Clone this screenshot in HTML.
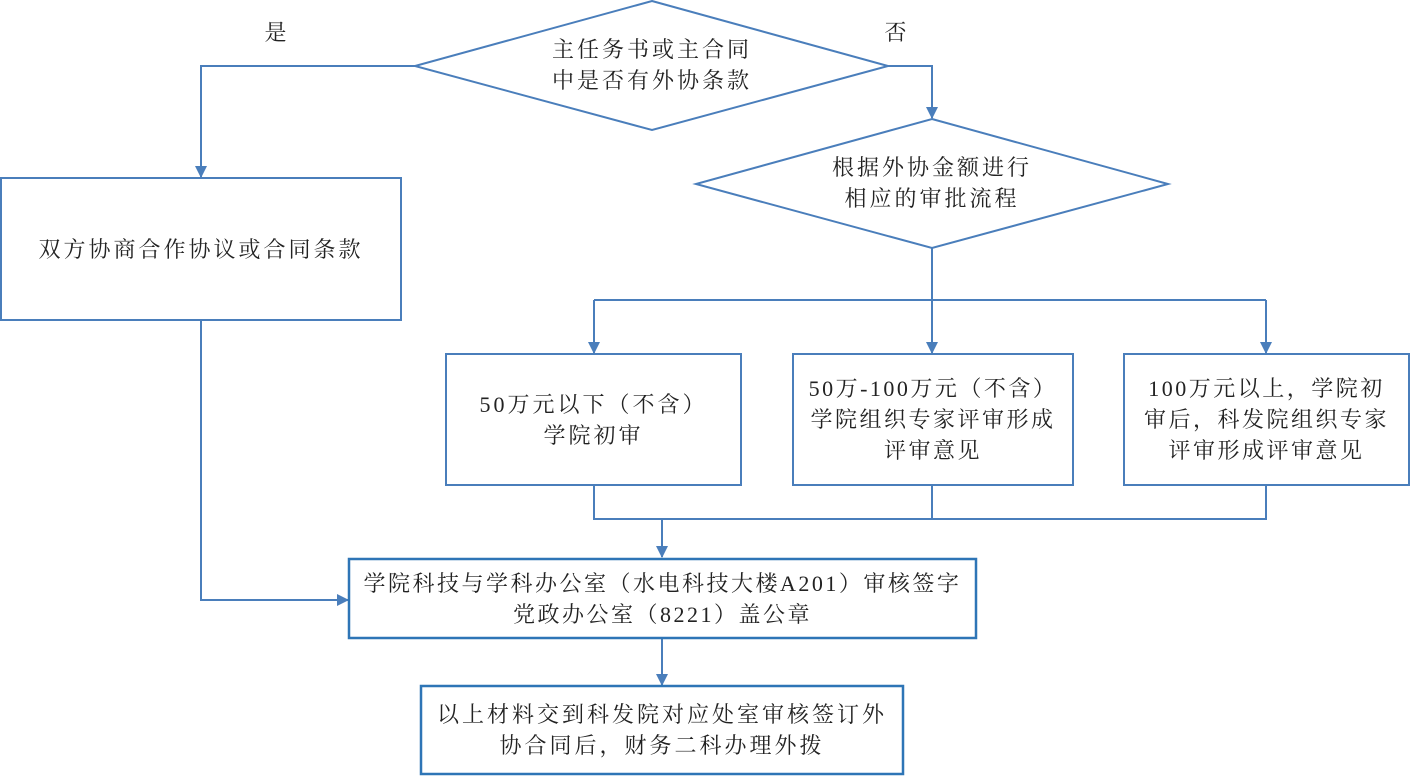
<!DOCTYPE html>
<html><head><meta charset="utf-8">
<style>
html,body{margin:0;padding:0;background:#fff;}
body{width:1410px;height:776px;position:relative;overflow:hidden;
font-family:"Liberation Serif","Noto Serif CJK SC",serif;color:#222;font-size:22px;}
.t{position:absolute;display:flex;align-items:center;justify-content:center;text-align:center;
line-height:31px;letter-spacing:3px;box-sizing:border-box;white-space:nowrap;}
svg{position:absolute;left:0;top:0;}
</style></head><body>
<svg width="1410" height="776" viewBox="0 0 1410 776">
<defs><marker id="a" markerWidth="12" markerHeight="12" refX="11" refY="6" orient="auto" markerUnits="userSpaceOnUse">
<path d="M0,0 L12,6 L0,12 z" fill="#4a7ebb"/></marker></defs>
<g fill="none" stroke="#4a7ebb" stroke-width="2">
<polygon points="652,1 888,66 652,130 415,66" fill="#fff"/>
<polygon points="932,119 1168,184 932,248 696,184" fill="#fff"/>
<rect x="1" y="178" width="400" height="142"/>
<rect x="446" y="354" width="295" height="131"/>
<rect x="793" y="354" width="280" height="131"/>
<rect x="1124" y="354" width="285" height="131"/>
<polyline points="415,66 201,66 201,177" marker-end="url(#a)"/>
<polyline points="888,66 932,66 932,118" marker-end="url(#a)"/>
<polyline points="932,248 932,353" marker-end="url(#a)"/>
<polyline points="594,300 1266,300"/>
<polyline points="594,300 594,353" marker-end="url(#a)"/>
<polyline points="1266,300 1266,353" marker-end="url(#a)"/>
<polyline points="594,485 594,519 1266,519 1266,485"/>
<line x1="932" y1="485" x2="932" y2="519"/>
<polyline points="662,519 662,557" marker-end="url(#a)"/>
<polyline points="201,320 201,600 348,600" marker-end="url(#a)"/>
<polyline points="662,638 662,685" marker-end="url(#a)"/>
</g>
<g fill="none" stroke="#2e75b6" stroke-width="2.5">
<rect x="349" y="559" width="627" height="79"/>
<rect x="421" y="686" width="482" height="88"/>
</g>
</svg>
<div class="t" style="left:257px;top:16px;width:40px;height:32px;">是</div>
<div class="t" style="left:877px;top:16px;width:40px;height:32px;">否</div>
<div class="t" style="left:500px;top:33px;width:304px;height:64px;">主任务书或主合同<br>中是否有外协条款</div>
<div class="t" style="left:780px;top:151px;width:304px;height:64px;">根据外协金额进行<br>相应的审批流程</div>
<div class="t" style="left:1px;top:178px;width:400px;height:142px;">双方协商合作协议或合同条款</div>
<div class="t" style="left:446px;top:354px;width:295px;height:131px;">50万元以下（不含）<br>学院初审</div>
<div class="t" style="left:793px;top:354px;width:280px;height:131px;letter-spacing:2.5px;">50万-100万元（不含）<br>学院组织专家评审形成<br>评审意见</div>
<div class="t" style="left:1124px;top:354px;width:285px;height:131px;letter-spacing:2.5px;">100万元以上，学院初<br>审后，科发院组织专家<br>评审形成评审意见</div>
<div class="t" style="left:349px;top:559px;width:627px;height:79px;letter-spacing:2.5px;">学院科技与学科办公室（水电科技大楼A201）审核签字<br>党政办公室（8221）盖公章</div>
<div class="t" style="left:421px;top:686px;width:482px;height:88px;letter-spacing:3px;">以上材料交到科发院对应处室审核签订外<br>协合同后，财务二科办理外拨</div>
</body></html>
